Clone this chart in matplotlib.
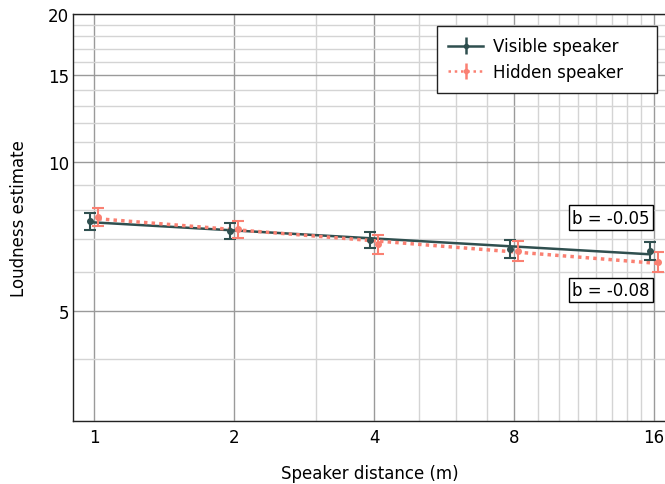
import numpy as np
import matplotlib.pyplot as plt
from matplotlib.ticker import FixedLocator, NullFormatter

plt.rcParams.update({'font.size': 12, 'font.family': 'DejaVu Sans'})

distance = [1, 2, 4, 8, 16]
visible_mean = [7.61, 7.27, 6.97, 6.68, 6.62]
visible_err = [0.30, 0.26, 0.27, 0.27, 0.27]
hidden_mean = [7.75, 7.32, 6.83, 6.62, 6.29]
hidden_err = [0.32, 0.30, 0.29, 0.30, 0.30]

# power-law fits: y = a * x^b
visible_fit = (7.56, -0.054)
hidden_fit = (7.70, -0.075)
slope_labels = ['b = -0.05', 'b = -0.08']

col_vis = '#2f4f4f'
col_hid = '#fa8072'

fig = plt.figure(figsize=(6.65, 4.85), dpi=100)
ax = fig.add_axes([73 / 665, 1 - 421.7 / 485, 1 - 73 / 665 + 0.002, (421.7 - 14.7) / 485])

x = np.array(distance, dtype=float)
x_vis = x * 0.98
x_hid = x * 1.02

# fitted lines
ax.plot(x_vis, visible_fit[0] * x_vis ** visible_fit[1], color=col_vis, lw=1.8, zorder=3)
ax.plot(x_hid, hidden_fit[0] * x_hid ** hidden_fit[1], color=col_hid, lw=2.5, ls=(0, (1, 1.2)), zorder=3)

# means with error bars
ax.errorbar(x_vis, visible_mean, yerr=visible_err, fmt='o', color=col_vis, ms=4,
            elinewidth=1.5, capsize=4, capthick=1.5, zorder=4)
ax.errorbar(x_hid, hidden_mean, yerr=hidden_err, fmt='o', color=col_hid, ms=4,
            elinewidth=1.5, capsize=4, capthick=1.5, zorder=4)

# legend proxies
h1 = ax.errorbar([], [], yerr=[], fmt='-o', color=col_vis, ms=3, lw=1.8, capsize=4, capthick=1.5)
h2 = ax.errorbar([], [], yerr=[], fmt='o', ls=(0, (1, 1.5)), color=col_hid, ms=3, lw=1.8,
                 capsize=4, capthick=1.5)
leg = ax.legend([h1, h2], ['Visible speaker', 'Hidden speaker'], loc='upper left',
                bbox_to_anchor=(0.613, 0.5, 0.372, 0.4705), mode='expand', fancybox=False,
                framealpha=1, edgecolor='#222222', borderpad=0.7, handlelength=2.1,
                handletextpad=0.6, labelspacing=0.45, borderaxespad=0)
leg.get_frame().set_linewidth(1.0)

ax.set_xscale('log')
ax.set_yscale('log')
ax.set_xlim(0.9, 17)
ax.set_ylim(3, 20)

ax.xaxis.set_major_locator(FixedLocator(distance))
ax.set_xticklabels([str(d) for d in distance])
ax.xaxis.set_minor_locator(FixedLocator([v for v in range(3, 17) if v not in distance]))
ax.xaxis.set_minor_formatter(NullFormatter())

yticks = [5, 10, 15, 20]
ax.yaxis.set_major_locator(FixedLocator(yticks))
ax.set_yticklabels([str(t) for t in yticks])
ax.yaxis.set_minor_locator(FixedLocator([v for v in range(3, 21) if v not in yticks]))
ax.yaxis.set_minor_formatter(NullFormatter())

ax.tick_params(which='both', length=0)
ax.tick_params(axis='x', pad=5)
ax.tick_params(axis='y', pad=3)
ax.grid(which='major', color='#9a9a9a', lw=1.0)
ax.grid(which='minor', color='#d4d4d4', lw=1.0)
ax.set_axisbelow(True)

for s in ['left', 'bottom', 'top']:
    ax.spines[s].set_color('#222222')
    ax.spines[s].set_linewidth(1.0)
ax.spines['right'].set_visible(False)

box = dict(boxstyle='square,pad=0.2', facecolor='white', edgecolor='black', lw=1.0)
ax.text(0.972, 0.4985, slope_labels[0], transform=ax.transAxes, ha='right', va='center', bbox=box, zorder=5)
ax.text(0.972, 0.321, slope_labels[1], transform=ax.transAxes, ha='right', va='center', bbox=box, zorder=5)

ax.set_xlabel('Speaker distance (m)', labelpad=13)
ax.set_ylabel('Loudness estimate', labelpad=14)

fig.savefig('out.png', dpi=100)
